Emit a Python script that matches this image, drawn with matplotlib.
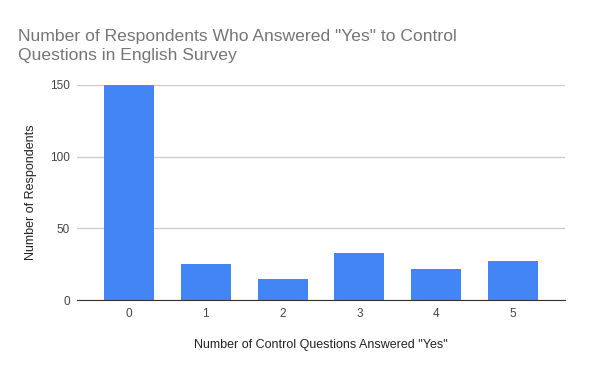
import matplotlib
matplotlib.use("Agg")
from matplotlib import pyplot as plt

plt.rcParams['font.family'] = ['Liberation Sans', 'DejaVu Sans']

categories = ['0', '1', '2', '3', '4', '5']
respondents = [150, 25, 15, 33, 22, 27]

fig = plt.figure(figsize=(6, 3.71), dpi=100)
ax = fig.add_axes([0.128, 0.191, 0.814, 0.58])

xs = [i for i, _ in enumerate(categories)]
ax.bar(xs, respondents, width=0.65, color='#4285f4', zorder=3)

ax.set_xlim(-0.68, 5.68)
ax.set_ylim(0, 150)
ax.set_yticks([0, 50, 100, 150])
ax.set_xticks(xs)
ax.set_xticklabels(categories)
ax.grid(axis='y', color='#cccccc', linewidth=1, zorder=0)
for s in ['top', 'right', 'left']:
    ax.spines[s].set_visible(False)
ax.spines['bottom'].set_color('#333333')
ax.spines['bottom'].set_zorder(4)
ax.tick_params(length=0, labelsize=8.5, labelcolor='#444444')
ax.tick_params(axis='x', pad=6)
ax.tick_params(axis='y', pad=5)

ax.set_ylabel('Number of Respondents', fontsize=9, color='#222222', labelpad=9)
ax.set_xlabel('Number of Control Questions Answered "Yes"', fontsize=9, color='#222222', labelpad=13)

fig.text(0.03, 0.83, 'Number of Respondents Who Answered "Yes" to Control\nQuestions in English Survey',
         fontsize=12.6, color='#757575', ha='left', va='bottom', linespacing=1.35)

fig.savefig('out.png', dpi=100)
